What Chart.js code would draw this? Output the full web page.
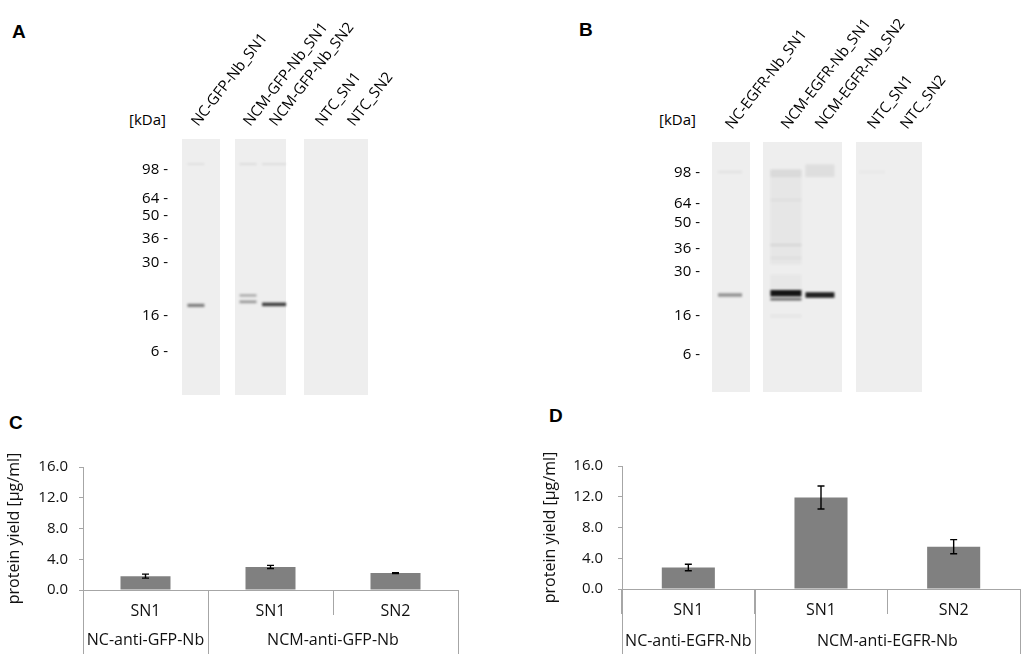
<!DOCTYPE html>
<html>
<head>
<meta charset="utf-8">
<script src="https://cdn.jsdelivr.net/npm/chart.js@4.4.1/dist/chart.umd.min.js"></script>
<style>
  body { margin: 0; background: #fff; }
  #page { position: relative; width: 1024px; height: 654px; overflow: hidden; background: #fff; }
  canvas { position: absolute; }
  .pl { position: absolute; font: bold 19px/19px "Liberation Sans", Arial, sans-serif; color: #000; }
  .kda { position: absolute; font: 15px/15px "Open Sans", sans-serif; color: #000; }
</style>
</head>
<body>
<div id="page">
  <div class="pl" style="left:12px;top:22px">A</div>
  <div class="pl" style="left:579px;top:20px">B</div>
  <div class="pl" style="left:9px;top:413px">C</div>
  <div class="pl" style="left:549px;top:406px">D</div>
  <div class="kda" style="left:129px;top:112px">[kDa]</div>
  <div class="kda" style="left:659px;top:112px">[kDa]</div>
  <canvas id="gelA" width="320" height="425" style="left:100px;top:0px;width:320px;height:425px"></canvas>
  <canvas id="gelB" width="340" height="425" style="left:620px;top:0px;width:340px;height:425px"></canvas>
  <canvas id="barC" width="480" height="214" style="left:0px;top:440px;width:480px;height:214px"></canvas>
  <canvas id="barD" width="504" height="214" style="left:520px;top:440px;width:504px;height:214px"></canvas>
</div>
<script>
// marker ladder (same for both blots)
const markerKda = ['98', '64', '50', '36', '30', '16', '6'];

// blot A - anti-GFP nanobody
const lanesA = ['NC-GFP-Nb_SN1', 'NCM-GFP-Nb_SN1', 'NCM-GFP-Nb_SN2', 'NTC_SN1', 'NTC_SN2'];
const markerRfA = [0.121, 0.234, 0.301, 0.391, 0.484, 0.691, 0.832];
const bandLaneA = [0, 1, 1, 2, 0, 1, 2];
const bandRfA = [0.650, 0.611, 0.636, 0.646, 0.098, 0.098, 0.098];
const bandThA = [0.013, 0.010, 0.011, 0.014, 0.008, 0.008, 0.008];
const bandDensA = [0.50, 0.30, 0.38, 0.80, 0.06, 0.08, 0.07];

// blot B - anti-EGFR nanobody
const lanesB = ['NC-EGFR-Nb_SN1', 'NCM-EGFR-Nb_SN1', 'NCM-EGFR-Nb_SN2', 'NTC_SN1', 'NTC_SN2'];
const markerRfB = [0.124, 0.248, 0.324, 0.428, 0.520, 0.696, 0.852];
const bandLaneB = [0, 1, 1, 2, 0, 1, 1, 1, 1, 1, 1, 1, 2, 3];
const bandRfB = [0.612, 0.605, 0.629, 0.612, 0.120, 0.125, 0.232, 0.412, 0.464, 0.696, 0.300, 0.560, 0.115, 0.120];
const bandThB = [0.014, 0.026, 0.010, 0.022, 0.010, 0.030, 0.010, 0.010, 0.010, 0.012, 0.380, 0.060, 0.050, 0.010];
const bandDensB = [0.42, 1.00, 0.60, 0.95, 0.05, 0.06, 0.04, 0.07, 0.04, 0.04, 0.035, 0.03, 0.07, 0.03];

// gel geometry, x in percent of blot width
const stripsA = [[0, 20.4], [28.5, 55.9], [65.6, 100]];
const laneXA = [7.5, 35.5, 49.5, 74.2, 91.4];
const laneWA = [9.1, 9.1, 12.9, 12, 12];
const stripsB = [[0, 18.1], [24.3, 61.9], [68.6, 100]];
const laneXB = [8.6, 35.2, 51.4, 76.2, 91.9];
const laneWB = [11.4, 14.8, 13.8, 12, 12];

// panel C - yield anti-GFP-Nb
const catC = ['SN1', 'SN1', 'SN2'];
const groupC = ['NC-anti-GFP-Nb', 'NCM-anti-GFP-Nb'];
const groupSizeC = [1, 2];
const yieldC = [1.8, 3.0, 2.2];
const errC = [0.26, 0.2, 0.06];

// panel D - yield anti-EGFR-Nb
const catD = ['SN1', 'SN1', 'SN2'];
const groupD = ['NC-anti-EGFR-Nb', 'NCM-anti-EGFR-Nb'];
const groupSizeD = [1, 2];
const yieldD = [2.8, 11.9, 5.5];
const errD = [0.42, 1.5, 0.92];

const yTicks = [0, 4, 8, 12, 16];

Chart.defaults.font.family = '"Open Sans", sans-serif';
Chart.defaults.color = '#111';
const axisGray = '#a6a6a6';

function gel(canvasId, lanes, markerRf, strips, laneX, laneW, bands, box) {
  const gelPlugin = {
    id: 'gel' + canvasId,
    beforeDraw(chart) {
      const { ctx, chartArea, scales: { x, y } } = chart;
      ctx.save();
      ctx.fillStyle = '#eeeeee';
      strips.forEach(s => {
        const x0 = x.getPixelForValue(s[0]);
        const x1 = x.getPixelForValue(s[1]);
        ctx.fillRect(x0, chartArea.top, x1 - x0, chartArea.bottom - chartArea.top);
      });
      ctx.filter = 'blur(1.1px)';
      bands.lane.forEach((lane, i) => {
        const cx = x.getPixelForValue(laneX[lane]);
        const hw = (x.getPixelForValue(laneW[lane]) - x.getPixelForValue(0)) / 2;
        const y0 = y.getPixelForValue(bands.rf[i] - bands.th[i] / 2);
        const y1 = y.getPixelForValue(bands.rf[i] + bands.th[i] / 2);
        ctx.fillStyle = 'rgba(20,20,20,' + bands.dens[i] + ')';
        ctx.fillRect(cx - hw, Math.min(y0, y1), 2 * hw, Math.max(Math.abs(y1 - y0), 1));
      });
      ctx.restore();
    }
  };

  new Chart(document.getElementById(canvasId), {
    type: 'scatter',
    data: { datasets: [] },
    plugins: [gelPlugin],
    options: {
      responsive: false,
      animation: false,
      devicePixelRatio: 1,
      layout: { padding: { top: 0, left: 0, right: box.right, bottom: box.bottom } },
      plugins: { legend: { display: false }, tooltip: { enabled: false } },
      scales: {
        x: {
          type: 'linear',
          position: 'top',
          min: 0,
          max: 100,
          grid: { display: false, drawTicks: false },
          border: { display: false },
          ticks: {
            autoSkip: false,
            minRotation: 52,
            maxRotation: 52,
            padding: 9,
            labelOffset: 13,
            font: { size: 15 },
            color: '#000',
            callback: (v, i) => lanes[i]
          },
          afterBuildTicks: s => { s.ticks = laneX.map(v => ({ value: v })); },
          afterFit: s => { s.height = box.top; }
        },
        y: {
          type: 'linear',
          reverse: true,
          min: 0,
          max: 1,
          grid: { display: false, drawTicks: false },
          border: { display: false },
          ticks: {
            autoSkip: false,
            padding: box.tickPad,
            font: { size: 15 },
            color: '#000',
            callback: (v, i) => markerKda[i] + ' -'
          },
          afterBuildTicks: s => { s.ticks = markerRf.map(v => ({ value: v })); },
          afterFit: s => { s.width = box.left; }
        }
      }
    }
  });
}

function yieldChart(canvasId, cats, groups, groupSize, values, errors, box) {
  const errorBars = {
    id: 'err' + canvasId,
    afterDatasetsDraw(chart) {
      const { ctx, scales: { y } } = chart;
      const meta = chart.getDatasetMeta(0);
      ctx.save();
      ctx.strokeStyle = '#000';
      ctx.lineWidth = 1.4;
      meta.data.forEach((bar, i) => {
        const top = y.getPixelForValue(values[i] + errors[i]);
        const bot = y.getPixelForValue(values[i] - errors[i]);
        ctx.beginPath();
        ctx.moveTo(bar.x, top); ctx.lineTo(bar.x, bot);
        ctx.moveTo(bar.x - 3.5, top); ctx.lineTo(bar.x + 3.5, top);
        ctx.moveTo(bar.x - 3.5, bot); ctx.lineTo(bar.x + 3.5, bot);
        ctx.stroke();
      });
      ctx.restore();
    }
  };

  // second row of the category axis: group names and long dividers
  const groupAxis = {
    id: 'grp' + canvasId,
    afterDraw(chart) {
      const { ctx, scales: { x } } = chart;
      ctx.save();
      ctx.strokeStyle = axisGray;
      ctx.lineWidth = 1;
      ctx.fillStyle = '#111';
      ctx.font = '16px "Open Sans", sans-serif';
      ctx.textAlign = 'center';
      ctx.textBaseline = 'middle';
      let start = -0.5;
      const edges = [start];
      groups.forEach((g, gi) => {
        const end = start + groupSize[gi];
        const px0 = x.getPixelForValue(start);
        const px1 = x.getPixelForValue(end);
        ctx.fillText(g, (px0 + px1) / 2, box.groupY);
        edges.push(end);
        start = end;
      });
      edges.forEach(e => {
        const px = Math.round(x.getPixelForValue(e)) + 0.5;
        ctx.beginPath();
        ctx.moveTo(px, x.top);
        ctx.lineTo(px, chart.height);
        ctx.stroke();
      });
      ctx.restore();
    }
  };

  new Chart(document.getElementById(canvasId), {
    type: 'bar',
    data: {
      labels: cats,
      datasets: [{
        data: values,
        backgroundColor: '#808080',
        borderWidth: 0,
        barPercentage: 0.4,
        categoryPercentage: 1
      }]
    },
    plugins: [errorBars, groupAxis],
    options: {
      responsive: false,
      animation: false,
      devicePixelRatio: 1,
      layout: { padding: { top: box.top, right: box.right, left: 0, bottom: 0 } },
      plugins: { legend: { display: false }, tooltip: { enabled: false } },
      scales: {
        x: {
          offset: true,
          grid: { display: true, offset: true, drawOnChartArea: false, tickLength: 25, color: axisGray },
          border: { color: axisGray },
          ticks: { padding: -13, font: { size: 16 }, color: '#111' },
          afterFit: s => { s.height = box.bottom; }
        },
        y: {
          min: 0,
          max: 16,
          grid: { drawOnChartArea: false, tickLength: 4, color: axisGray },
          border: { color: axisGray },
          ticks: {
            padding: box.tickPad,
            font: { size: 15 },
            color: '#111',
            callback: v => v.toFixed(1)
          },
          afterBuildTicks: s => { s.ticks = yTicks.map(v => ({ value: v })); },
          title: {
            display: true,
            text: 'protein yield [µg/ml]',
            font: { size: 16 },
            color: '#111',
            padding: { top: box.titlePad, bottom: 0 }
          },
          afterFit: s => { s.width = box.left; }
        }
      }
    }
  });
}

gel('gelA', lanesA, markerRfA, stripsA, laneXA, laneWA,
  { lane: bandLaneA, rf: bandRfA, th: bandThA, dens: bandDensA },
  { left: 82, top: 139, right: 52, bottom: 30, tickPad: 14 });

gel('gelB', lanesB, markerRfB, stripsB, laneXB, laneWB,
  { lane: bandLaneB, rf: bandRfB, th: bandThB, dens: bandDensB },
  { left: 92, top: 142, right: 38, bottom: 33, tickPad: 12 });

yieldChart('barC', catC, groupC, groupSizeC, yieldC, errC,
  { left: 83, top: 27, right: 22, bottom: 64, tickPad: 11, titlePad: 5, groupY: 200 });

yieldChart('barD', catD, groupD, groupSizeD, yieldD, errD,
  { left: 102, top: 26, right: 4, bottom: 65, tickPad: 15, titlePad: 21, groupY: 201 });
</script>
</body>
</html>
